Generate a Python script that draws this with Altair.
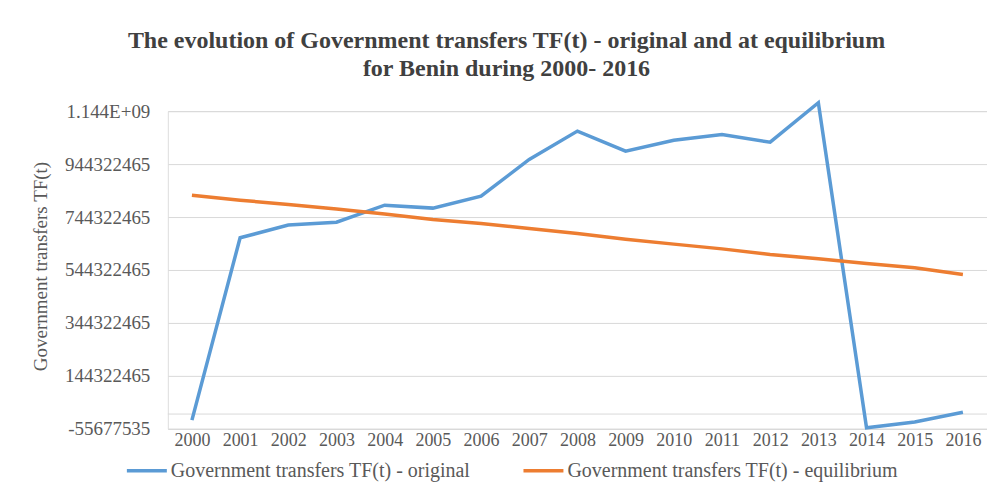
import altair as alt
import pandas as pd

years = [str(y) for y in range(2000, 2017)]
original = [-23e6, 666e6, 714e6, 725e6, 789e6, 778e6, 823e6, 962e6, 1069e6, 993e6,
            1034e6, 1056e6, 1027e6, 1176e6, -52e6, -30e6, 7e6]
equilibrium = [827e6, 808e6, 792e6, 775e6, 756e6, 735e6, 720e6, 701e6, 682e6, 660e6,
               642e6, 624e6, 603e6, 587e6, 569e6, 553e6, 527e6]
series_names = ["Government transfers TF(t) - original",
                "Government transfers TF(t) - equilibrium"]
y_ticks = [-55677535, 144322465, 344322465, 544322465, 744322465, 944322465, 1144322465]

df = pd.DataFrame(
    [{"year": y, "value": v, "series": series_names[0]} for y, v in zip(years, original)]
    + [{"year": y, "value": v, "series": series_names[1]} for y, v in zip(years, equilibrium)]
)

grid_color = "#d9d9d9"
text_color = "#595959"

lines = alt.Chart(df).mark_line(strokeWidth=3.5).encode(
    x=alt.X("year:O", scale=alt.Scale(type="point", padding=0.5),
            axis=alt.Axis(title=None, labelAngle=0, ticks=False, domain=True,
                          domainColor=grid_color, labelFont="Liberation Serif",
                          labelFontSize=18, labelColor=text_color, labelPadding=3,
                          grid=False)),
    y=alt.Y("value:Q", scale=alt.Scale(domain=[y_ticks[0], y_ticks[-1]], nice=False, zero=False),
            axis=alt.Axis(title="Government transfers TF(t)", values=y_ticks,
                          labelExpr="datum.value > 1e9 ? '1.144E+09' : '' + datum.value",
                          ticks=False, domain=False, grid=True, gridColor=grid_color,
                          labelFont="Liberation Serif", labelFontSize=19, labelColor=text_color,
                          labelPadding=18, titleFont="Liberation Serif", titleFontSize=19,
                          titleFontWeight="normal", titleColor=text_color,
                          titleX=-117, titleY=155)),
    color=alt.Color("series:N", scale=alt.Scale(domain=series_names, range=["#5b9bd5", "#ed7d31"]),
                    legend=alt.Legend(title=None, orient="none", direction="horizontal",
                                      legendX=-43, legendY=338, symbolType="stroke",
                                      symbolSize=1600, symbolStrokeWidth=3.5,
                                      labelFont="Liberation Serif", labelFontSize=20,
                                      labelColor=text_color, labelLimit=0, labelOffset=2,
                                      columnPadding=46)),
)

zero_rule = alt.Chart(pd.DataFrame({"z": [0]})).mark_rule(color=grid_color, strokeWidth=1).encode(
    y="z:Q"
)

chart = alt.layer(zero_rule, lines).properties(
    width=820,
    height=318,
    autosize=alt.AutoSizeParams(type="none"),
    padding={"left": 160, "top": 103, "right": 0, "bottom": 60},
    title=alt.TitleParams(
        text=["The evolution of Government transfers TF(t) - original and at equilibrium",
              "for Benin during  2000- 2016"],
        font="Liberation Serif", fontSize=24, fontWeight="bold", color="#404040",
        lineHeight=28, offset=15, dx=-71, anchor="middle"),
).configure_view(stroke=None).configure(background="white")

chart.save("out.html", embed_options={"renderer": "svg", "actions": False})
